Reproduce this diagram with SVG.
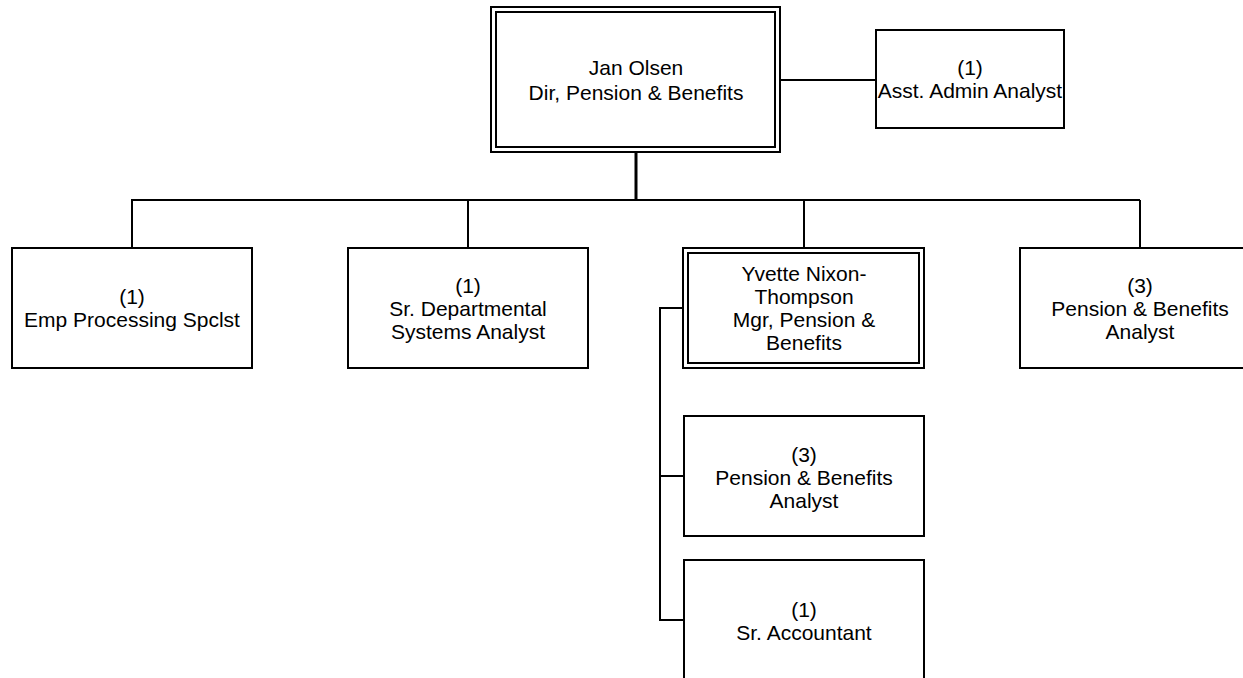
<svg xmlns="http://www.w3.org/2000/svg" width="1243" height="678" viewBox="0 0 1243 678">
<style>
.box{fill:#fff;stroke:#000;stroke-width:2}
.in{fill:none;stroke:#000;stroke-width:2}
.ln{fill:none;stroke:#000;stroke-width:2}
.t{font-family:"Liberation Sans",Arial,sans-serif;font-size:21px;fill:#000;text-anchor:middle}
</style>
<rect width="1243" height="678" fill="#fff"/>
<g id="connectors">
<path class="ln" d="M636,152 V200" style="stroke-width:3"/>
<path class="ln" d="M131,200 H1140"/>
<path class="ln" d="M132,200 V248 M468,200 V248 M804,200 V248 M1140,200 V248"/>
<path class="ln" d="M780,80 H876"/>
<path class="ln" d="M684,308 H660 V620 H684 M660,476 H684"/>
</g>
<g id="n-jan">
<rect class="box" x="491" y="7" width="289" height="145"/>
<rect class="in" x="496" y="12" width="279" height="135"/>
<text class="t" x="636" y="75">Jan Olsen</text>
<text class="t" x="636" y="100">Dir, Pension &amp; Benefits</text>
</g>
<g id="n-asst">
<rect class="box" x="876" y="30" width="188" height="98"/>
<text class="t" x="970" y="75">(1)</text>
<text class="t" x="970" y="98">Asst. Admin Analyst</text>
</g>
<g id="n-emp">
<rect class="box" x="12" y="248" width="240" height="120"/>
<text class="t" x="132" y="304">(1)</text>
<text class="t" x="132" y="327">Emp Processing Spclst</text>
</g>
<g id="n-sr-dept">
<rect class="box" x="348" y="248" width="240" height="120"/>
<text class="t" x="468" y="293">(1)</text>
<text class="t" x="468" y="316">Sr. Departmental</text>
<text class="t" x="468" y="339">Systems Analyst</text>
</g>
<g id="n-yvette">
<rect class="box" x="683" y="248" width="241" height="120"/>
<rect class="in" x="688" y="253" width="231" height="110"/>
<text class="t" x="804" y="281">Yvette Nixon-</text>
<text class="t" x="804" y="304">Thompson</text>
<text class="t" x="804" y="327">Mgr, Pension &amp;</text>
<text class="t" x="804" y="350">Benefits</text>
</g>
<g id="n-pba1">
<rect class="box" x="1020" y="248" width="240" height="120"/>
<text class="t" x="1140" y="293">(3)</text>
<text class="t" x="1140" y="316">Pension &amp; Benefits</text>
<text class="t" x="1140" y="339">Analyst</text>
</g>
<g id="n-pba2">
<rect class="box" x="684" y="416" width="240" height="120"/>
<text class="t" x="804" y="462">(3)</text>
<text class="t" x="804" y="485">Pension &amp; Benefits</text>
<text class="t" x="804" y="508">Analyst</text>
</g>
<g id="n-acct">
<rect class="box" x="684" y="560" width="240" height="120"/>
<text class="t" x="804" y="617">(1)</text>
<text class="t" x="804" y="640">Sr. Accountant</text>
</g>
</svg>
